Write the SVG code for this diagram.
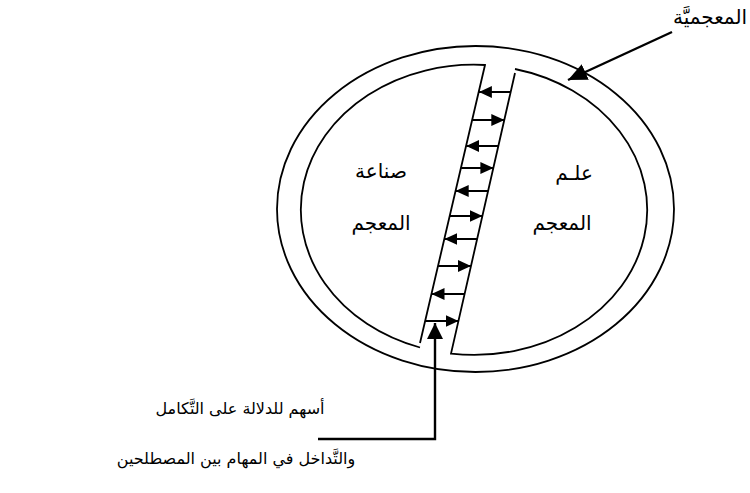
<svg xmlns="http://www.w3.org/2000/svg" width="750" height="493" viewBox="0 0 750 493">
<style>
.shape{fill:none;stroke:#000;stroke-width:1.8}
.conn{fill:none;stroke:#000;stroke-width:1.8}
.thick{fill:none;stroke:#000;stroke-width:2.4}
.lbl{font-family:"DejaVu Sans",sans-serif;font-size:20px;fill:#000;text-anchor:middle}
.note{font-family:"DejaVu Sans",sans-serif;font-size:16px;fill:#000;text-anchor:middle}
</style>
<defs>
<marker id="ah" markerUnits="userSpaceOnUse" markerWidth="13" markerHeight="12" refX="13" refY="6" orient="auto">
<path d="M0,0 L13,6 L0,12 z" fill="#000"/>
</marker>
<marker id="ahBig" markerUnits="userSpaceOnUse" markerWidth="16" markerHeight="16" refX="16" refY="8" orient="auto">
<path d="M0,0 L16,8 L0,16 z" fill="#000"/>
</marker>
<marker id="ahTop" markerUnits="userSpaceOnUse" markerWidth="19" markerHeight="17" refX="19" refY="8.5" orient="auto">
<path d="M0,0 L19,8.5 L0,17 z" fill="#000"/>
</marker>
</defs>
<g id="outer-ring">
<ellipse class="shape" cx="475.5" cy="209" rx="198.5" ry="163"/>
</g>
<g id="sinaat-almujam">
<path class="shape" d="M420,343 L485,65 A173 145 0 0 0 420,347.5"/>
<text class="lbl" x="381" y="178">صناعة</text>
<text class="lbl" x="381" y="230">المعجم</text>
</g>
<g id="ilm-almujam">
<path class="shape" d="M515,69 A173 145 0 0 1 451,353.6 L515,73"/>
<text class="lbl" x="574" y="180">علـم</text>
<text class="lbl" x="562" y="230">المعجم</text>
</g>
<g id="label-mujamiyya">
<text class="lbl" x="710" y="24">المعجميَّة</text>
</g>
<g id="label-arrows">
<text class="note" x="240" y="414">أسهم للدلالة على التَّكامل</text>
<text class="note" x="236" y="464">والتَّداخل في المهام بين المصطلحين</text>
</g>
<g id="connectors">
<line class="conn" x1="510.7" y1="92" x2="478.9" y2="92" marker-end="url(#ah)"/>
<line class="conn" x1="472.3" y1="120" x2="504.3" y2="120" marker-end="url(#ah)"/>
<line class="conn" x1="498.4" y1="146" x2="466.2" y2="146" marker-end="url(#ah)"/>
<line class="conn" x1="461.1" y1="168" x2="493.4" y2="168" marker-end="url(#ah)"/>
<line class="conn" x1="488.2" y1="191" x2="455.7" y2="191" marker-end="url(#ah)"/>
<line class="conn" x1="449.8" y1="216" x2="482.5" y2="216" marker-end="url(#ah)"/>
<line class="conn" x1="477.3" y1="239" x2="444.4" y2="239" marker-end="url(#ah)"/>
<line class="conn" x1="438.1" y1="266" x2="471.0" y2="266" marker-end="url(#ah)"/>
<line class="conn" x1="464.6" y1="294" x2="431.5" y2="294" marker-end="url(#ah)"/>
<line class="conn" x1="425.2" y1="321" x2="458.5" y2="321" marker-end="url(#ah)"/>
<polyline class="thick" points="318,439 435,439 435,323" marker-end="url(#ahBig)"/>
<line class="thick" x1="672" y1="32" x2="568" y2="80" marker-end="url(#ahTop)"/>
</g>
</svg>
